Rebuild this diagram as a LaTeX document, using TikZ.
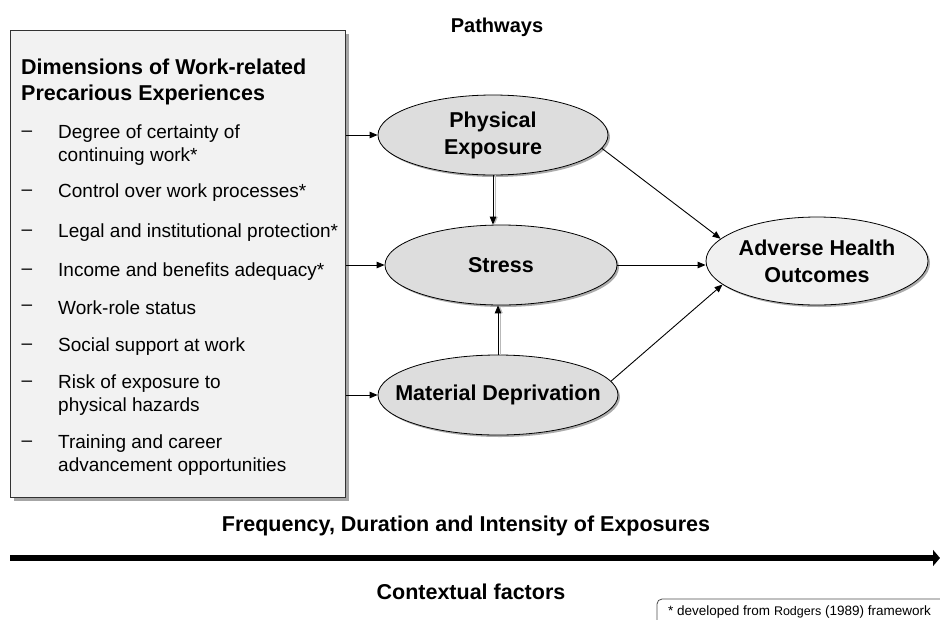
\documentclass[tikz,border=0pt]{standalone}
\usepackage{fontspec}
\setmainfont{Liberation Sans}
\usetikzlibrary{shapes.geometric,shadows,arrows.meta}

\begin{document}
\begin{tikzpicture}[x=1pt, y=-1pt,
  pathway/.style={ellipse, draw, line width=0.8pt, fill=gray!27, inner sep=0pt,
    drop shadow={shadow xshift=2pt, shadow yshift=-2pt, fill=gray!65, opacity=1}},
  pathlabel/.style={font=\fontsize{21.5}{27}\selectfont\bfseries, align=center, inner sep=0pt},
  heading/.style={font=\fontsize{21.5}{26}\selectfont\bfseries, inner sep=0pt},
  dimitem/.style={anchor=west, align=left, inner sep=0pt, font=\fontsize{19}{23}\selectfont},
  dimdash/.style={inner sep=0pt, font=\fontsize{19}{23}\selectfont},
  link/.style={line width=0.9pt, -{Triangle[length=8pt,width=6.5pt]}},
  vlink/.style={link, preaction={draw=gray!55, transform canvas={xshift=1.8pt}}}]
	\useasboundingbox (0,0) rectangle (940,619);

	% dimensions box
	\node[draw=black!80, line width=1.2pt, fill=gray!10, minimum width=335pt, minimum height=467pt, anchor=north west,
		drop shadow={shadow xshift=3pt, shadow yshift=-3pt, fill=gray!70, opacity=1}] (dims) at (10,30) {};
	\node[heading, anchor=west, align=left] (dimtitle) at (21,82) {Dimensions of Work-related\\Precarious Experiences};
	\foreach \y/\d/\txt [count=\i] in {145/134/{Degree of certainty of\\continuing work*}, 193/193/{Control over work processes*},
		233/233/{Legal and institutional protection*}, 272/272/{Income and benefits adequacy*}, 308/308/{Work-role status},
		347/347/{Social support at work}, 395/384/{Risk of exposure to\\physical hazards},
		455/444/{Training and career\\advancement opportunities}} {
		\node[dimdash] (dash\i) at (27,\d) {–};
		\node[dimitem] (dim\i) at (58,\y) {\txt};
	}

	% pathways
	\node[heading, font=\fontsize{20}{24}\selectfont\bfseries] (pathtitle) at (497,27) {Pathways};
	\node[pathway, minimum width=230pt, minimum height=80pt, label={[pathlabel]center:{Physical\\Exposure}}] (phys) at (493,135) {};
	\node[pathway, minimum width=232pt, minimum height=80pt, label={[pathlabel]center:Stress}] (stress) at (501,265) {};
	\node[pathway, minimum width=240pt, minimum height=80pt, label={[pathlabel]center:Material Deprivation}] (matdep) at (498,395) {};
	\node[pathway, fill=gray!12, minimum width=222pt, minimum height=88pt, label={[pathlabel]center:{Adverse Health\\Outcomes}}] (health) at (817,261) {};

	\path[link]
		(dims.east |- phys) edge (phys.west)
		(dims.east |- stress) edge (stress.west)
		(dims.east |- matdep) edge (matdep.west)
		(phys.-7) edge (health.167)
		(stress.east) edge (stress.east -| health.west)
		(matdep.7) edge (health.194);
	\draw[vlink] (phys.south) -- (phys.south |- stress.north);
	\draw[vlink] (matdep.north) -- (matdep.north |- stress.south);

	% exposures and context
	\node[heading] (exposures) at (466,526) {Frequency, Duration and Intensity of Exposures};
	\coordinate (ctxstart) at (10,558);
	\coordinate (ctxend) at (940,558);
	\draw[line width=6.5pt, -{Triangle[length=7pt,width=16pt]}] (ctxstart) -- (ctxend);
	\node[heading] (context) at (471,592) {Contextual factors};

	% footnote
	\draw[black!70, line width=0.8pt, rounded corners=5pt] (657,599) rectangle (960,640);
	\node[anchor=west, inner sep=0pt, font=\fontsize{13.5}{16}\selectfont] (note) at (668,612)
		{* developed from {\fontsize{12.5}{15}\selectfont Rodgers} (1989) framework};
\end{tikzpicture}
\end{document}
